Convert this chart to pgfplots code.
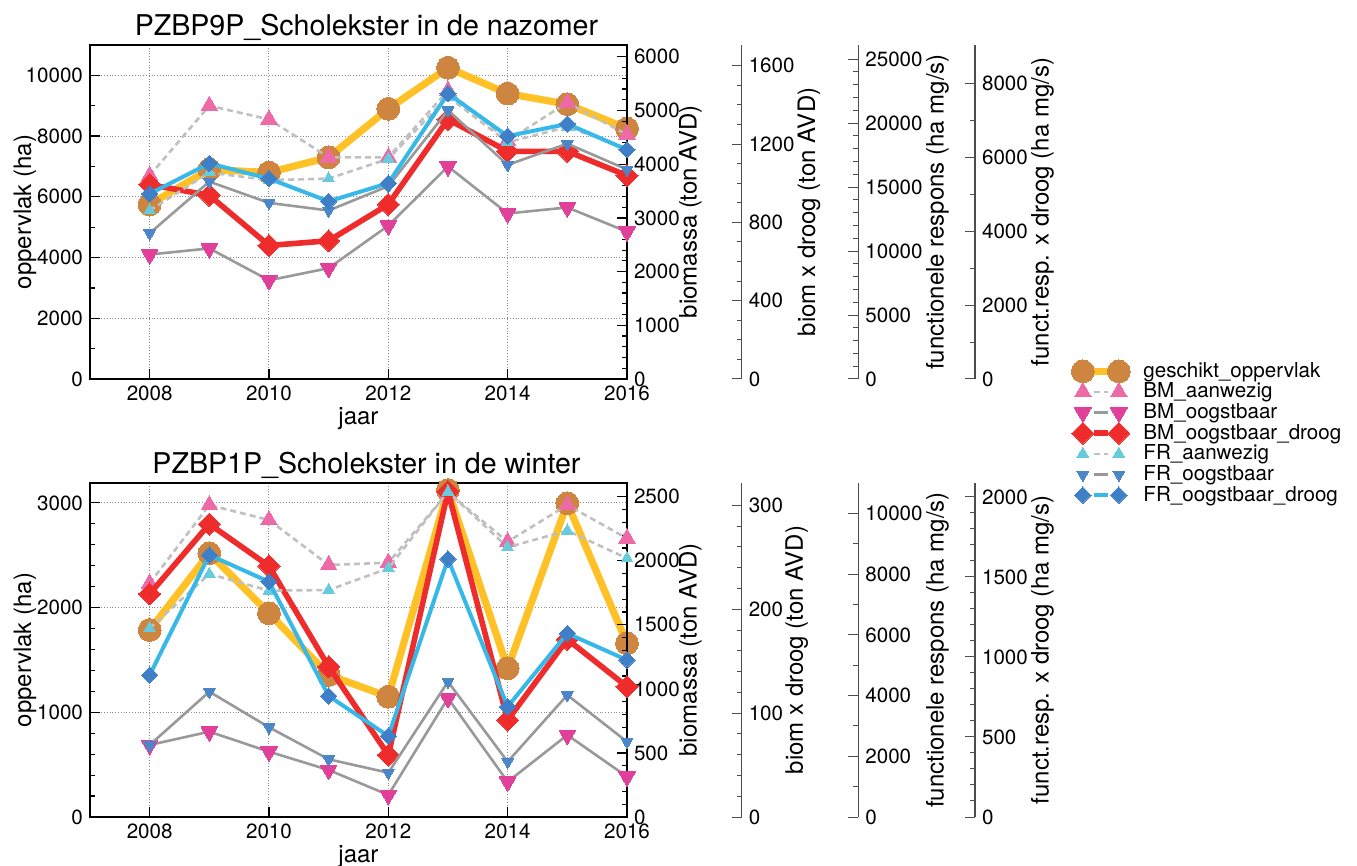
\documentclass[border=0pt]{standalone}
\usepackage{fontspec}
\setmainfont{TeX Gyre Heros}
\usepackage{pgfplots}
\pgfplotsset{compat=1.18}

\definecolor{cGeLine}{HTML}{FFC125}
\definecolor{cGeMark}{HTML}{CD853F}
\definecolor{cBMa}{HTML}{EE6AA7}
\definecolor{cBMo}{HTML}{E0409A}
\definecolor{cRed}{HTML}{EE2C2C}
\definecolor{cFRa}{HTML}{66CCDD}
\definecolor{cFRo}{HTML}{4A86C8}
\definecolor{cFRdLine}{HTML}{36B8E8}
\definecolor{cFRdMark}{HTML}{3F7FC8}
\definecolor{cDash}{HTML}{C0C0C0}
\definecolor{cGray}{HTML}{999999}

\tikzset{
  tfont/.style={font=\fontsize{10.3}{12}\selectfont},
  lfont/.style={font=\fontsize{12}{14}\selectfont},
}

\pgfplotsset{
  /pgf/number format/1000 sep={},
  /pgf/number format/assume math mode=true,
  base/.style={scale only axis, width=268.5pt, height=167pt, ymin=0,
    anchor=south west, xmin=2007, xmax=2016, clip=false, scaled ticks=false},
  dat/.style={base, hide axis},
  spine/.style={scale only axis, width=1pt, height=167pt, anchor=south west,
    xmin=0, xmax=1, ymin=0, axis x line=none, axis y line*=right,
    scaled ticks=false,
    tick align=inside, major tick length=5pt, minor tick length=2.5pt,
    tick style={black!70, line width=0.5pt},
    axis line style={black!70, line width=0.7pt},
    yticklabel style={tfont}},
  % label placed by hand, x in the spine axis' own relative units
  slab/.style={ylabel style={lfont, at={(rel axis cs:#1,0.5)}, anchor=center}},
  % series styles
  sGe/.style={color=cGeLine, line width=3.6pt, mark=*, mark size=5.7pt,
    mark options={solid, fill=cGeMark, draw=cGeMark, line width=0pt}},
  sBMa/.style={color=cDash, line width=1.3pt, dash pattern=on 3pt off 2pt,
    mark=triangle*, mark size=4.8pt,
    mark options={solid, fill=cBMa, draw=cBMa, line width=0pt}},
  sBMo/.style={color=cGray, line width=1.3pt, mark=triangle*, mark size=4.8pt,
    mark options={solid, rotate=180, fill=cBMo, draw=cBMo, line width=0pt}},
  sBMd/.style={color=cRed, line width=2.8pt, mark=square*, mark size=3.9pt,
    mark options={solid, rotate=45, fill=cRed, draw=cRed, line width=0pt}},
  sFRa/.style={color=cDash, line width=1.3pt, dash pattern=on 3pt off 2pt,
    mark=triangle*, mark size=3.4pt,
    mark options={solid, fill=cFRa, draw=cFRa, line width=0pt}},
  sFRo/.style={color=cGray, line width=1.3pt, mark=triangle*, mark size=3.4pt,
    mark options={solid, rotate=180, fill=cFRo, draw=cFRo, line width=0pt}},
  sFRd/.style={color=cFRdLine, line width=2pt, mark=square*, mark size=2.9pt,
    mark options={solid, rotate=45, fill=cFRdMark, draw=cFRdMark, line width=0pt}},
  mainax/.style={base, xtick={2008,2010,...,2016}, minor x tick num=1,
    xtick pos=bottom, ytick pos=left, tick align=inside,
    major tick length=5pt, minor tick length=2.5pt,
    tick style={black, line width=0.6pt},
    xmajorgrids, ymajorgrids,
    major grid style={densely dotted, black!45, line width=0.5pt},
    axis line style={line width=0.9pt},
    ticklabel style={tfont}, xlabel style={lfont, yshift=3.5pt},
    ylabel style={lfont, at={(rel axis cs:-0.121,0.5)}, anchor=center},
    title style={font=\fontsize{14.3}{17}\selectfont, xshift=4pt, yshift=-7.5pt},
    xlabel={jaar}, ylabel={oppervlak (ha)}},
  bmax/.style={base, axis x line=none, axis y line*=right, tick align=inside,
    major tick length=5pt, minor tick length=2.5pt,
    tick style={black, line width=0.6pt}, axis line style={line width=0.9pt},
    yticklabel style={tfont},
    ylabel style={lfont, at={(rel axis cs:1.118,0.5)}, anchor=center},
    ylabel={biomassa (ton AVD)}},
}

\begin{document}
\begin{tikzpicture}
\useasboundingbox (0pt,0pt) rectangle (678.5pt,-433pt);

% ================= top panel =================
\begin{axis}[mainax, at={(45pt,-189.5pt)}, ymax=11000,
  ytick={0,2000,...,10000}, minor y tick num=1,
  title={PZBP9P\_Scholekster in de nazomer},
  legend style={at={(1.827,0.063)}, anchor=north west, draw=none, fill=none,
    inner sep=0pt, row sep=-2.7pt, tfont},
  legend cell align=left,
  legend image code/.code={%
    \draw[#1, mark=none] (5.5pt,0pt) -- (12.5pt,0pt);
    \draw[#1, only marks] plot coordinates {(0pt,0pt) (18pt,0pt)};
    \path (26.5pt,0pt);}]
\addplot[sGe] coordinates {(2008,5750) (2009,6900) (2010,6800) (2011,7300) (2012,8900) (2013,10250) (2014,9400) (2015,9050) (2016,8250)};
\addlegendentry{geschikt\_oppervlak}
\addlegendimage{sBMa}\addlegendentry{BM\_aanwezig}
\addlegendimage{sBMo}\addlegendentry{BM\_oogstbaar}
\addlegendimage{sBMd}\addlegendentry{BM\_oogstbaar\_droog}
\addlegendimage{sFRa}\addlegendentry{FR\_aanwezig}
\addlegendimage{sFRo}\addlegendentry{FR\_oogstbaar}
\addlegendimage{sFRd}\addlegendentry{FR\_oogstbaar\_droog}
\end{axis}

\begin{axis}[bmax, at={(45pt,-189.5pt)}, ymax=6220,
  ytick={0,1000,...,6000}, minor y tick num=4]
\addplot[sBMa] coordinates {(2008,3789) (2009,5089) (2010,4835) (2011,4128) (2012,4128) (2013,5372) (2014,4439) (2015,5146) (2016,4552)};
\addplot[sBMo] coordinates {(2008,2318) (2009,2432) (2010,1838) (2011,2064) (2012,2856) (2013,3958) (2014,3082) (2015,3195) (2016,2743)};
\end{axis}

\begin{axis}[dat, at={(45pt,-189.5pt)}, ymax=1706]
\addplot[sBMd] coordinates {(2008,993) (2009,938) (2010,682) (2011,706) (2012,892) (2013,1326) (2014,1163) (2015,1163) (2016,1039)};
\end{axis}

\begin{axis}[dat, at={(45pt,-189.5pt)}, ymax=26100]
\addplot[sFRa] coordinates {(2008,13169) (2009,16134) (2010,15541) (2011,15660) (2012,17202) (2013,22066) (2014,18507) (2015,19693) (2016,18033)};
\addplot[sFRo] coordinates {(2008,11389) (2009,15423) (2010,13762) (2011,13168) (2012,15067) (2013,20998) (2014,16728) (2015,18388) (2016,16372)};
\end{axis}

\begin{axis}[dat, at={(45pt,-189.5pt)}, ymax=9030]
\addplot[sFRd] coordinates {(2008,5008) (2009,5828) (2010,5418) (2011,4802) (2012,5295) (2013,7716) (2014,6567) (2015,6896) (2016,6198)};
\end{axis}

\begin{axis}[spine, slab=34.65, at={(369.85pt,-189.5pt)}, ymax=1706,
  ytick={0,400,...,1600}, minor y tick num=3, ylabel={biom x droog (ton AVD)}]
\end{axis}
\begin{axis}[spine, slab=40.6, at={(428.15pt,-189.5pt)}, ymax=26100,
  ytick={0,5000,...,25000}, minor y tick num=4, ylabel={functionele respons (ha mg/s)}]
\end{axis}
\begin{axis}[spine, slab=34.75, at={(486.5pt,-189.5pt)}, ymax=9030,
  ytick={0,2000,...,8000}, minor y tick num=1, ylabel={funct.resp. x droog (ha mg/s)}]
\end{axis}

% ================= bottom panel =================
\begin{axis}[mainax, at={(45pt,-408.5pt)}, ymax=3190,
  ytick={0,1000,...,3000}, minor y tick num=4,
  title={PZBP1P\_Scholekster in de winter}]
\addplot[sGe] coordinates {(2008,1786) (2009,2519) (2010,1946) (2011,1356) (2012,1149) (2013,3123) (2014,1420) (2015,2996) (2016,1659)};
\end{axis}

\begin{axis}[bmax, at={(45pt,-408.5pt)}, ymax=2607,
  ytick={0,500,...,2500}, minor y tick num=4]
\addplot[sBMa] coordinates {(2008,1824) (2009,2435) (2010,2318) (2011,1967) (2012,1985) (2013,2533) (2014,2149) (2015,2435) (2016,2175)};
\addplot[sBMo] coordinates {(2008,562) (2009,666) (2010,510) (2011,367) (2012,172) (2013,927) (2014,275) (2015,640) (2016,315)};
\end{axis}

\begin{axis}[dat, at={(45pt,-408.5pt)}, ymax=321.5]
\addplot[sBMd] coordinates {(2008,214.7) (2009,282.0) (2010,241.6) (2011,144.7) (2012,59.7) (2013,313.4) (2014,93.3) (2015,171.0) (2016,125.5)};
\end{axis}

\begin{axis}[dat, at={(45pt,-408.5pt)}, ymax=11005]
\addplot[sFRa] coordinates {(2008,6217) (2009,8007) (2010,7458) (2011,7479) (2012,8193) (2013,10719) (2014,8887) (2015,9435) (2016,8524)};
\addplot[sFRo] coordinates {(2008,2373) (2009,4129) (2010,2956) (2011,1901) (2012,1459) (2013,4457) (2014,1821) (2015,4019) (2016,2480)};
\end{axis}

\begin{axis}[dat, at={(45pt,-408.5pt)}, ymax=2087]
\addplot[sFRd] coordinates {(2008,887) (2009,1637) (2010,1470) (2011,756) (2012,506) (2013,1612) (2014,689) (2015,1147) (2016,981)};
\end{axis}

\begin{axis}[spine, slab=28.5, at={(369.85pt,-408.5pt)}, ymax=321.5,
  ytick={0,100,200,300}, minor y tick num=4, ylabel={biom x droog (ton AVD)}]
\end{axis}
\begin{axis}[spine, slab=40.6, at={(428.15pt,-408.5pt)}, ymax=11005,
  ytick={0,2000,...,10000}, minor y tick num=1, ylabel={functionele respons (ha mg/s)}]
\end{axis}
\begin{axis}[spine, slab=34.75, at={(486.5pt,-408.5pt)}, ymax=2087,
  ytick={0,500,...,2000}, minor y tick num=4, ylabel={funct.resp. x droog (ha mg/s)}]
\end{axis}
\end{tikzpicture}
\end{document}
